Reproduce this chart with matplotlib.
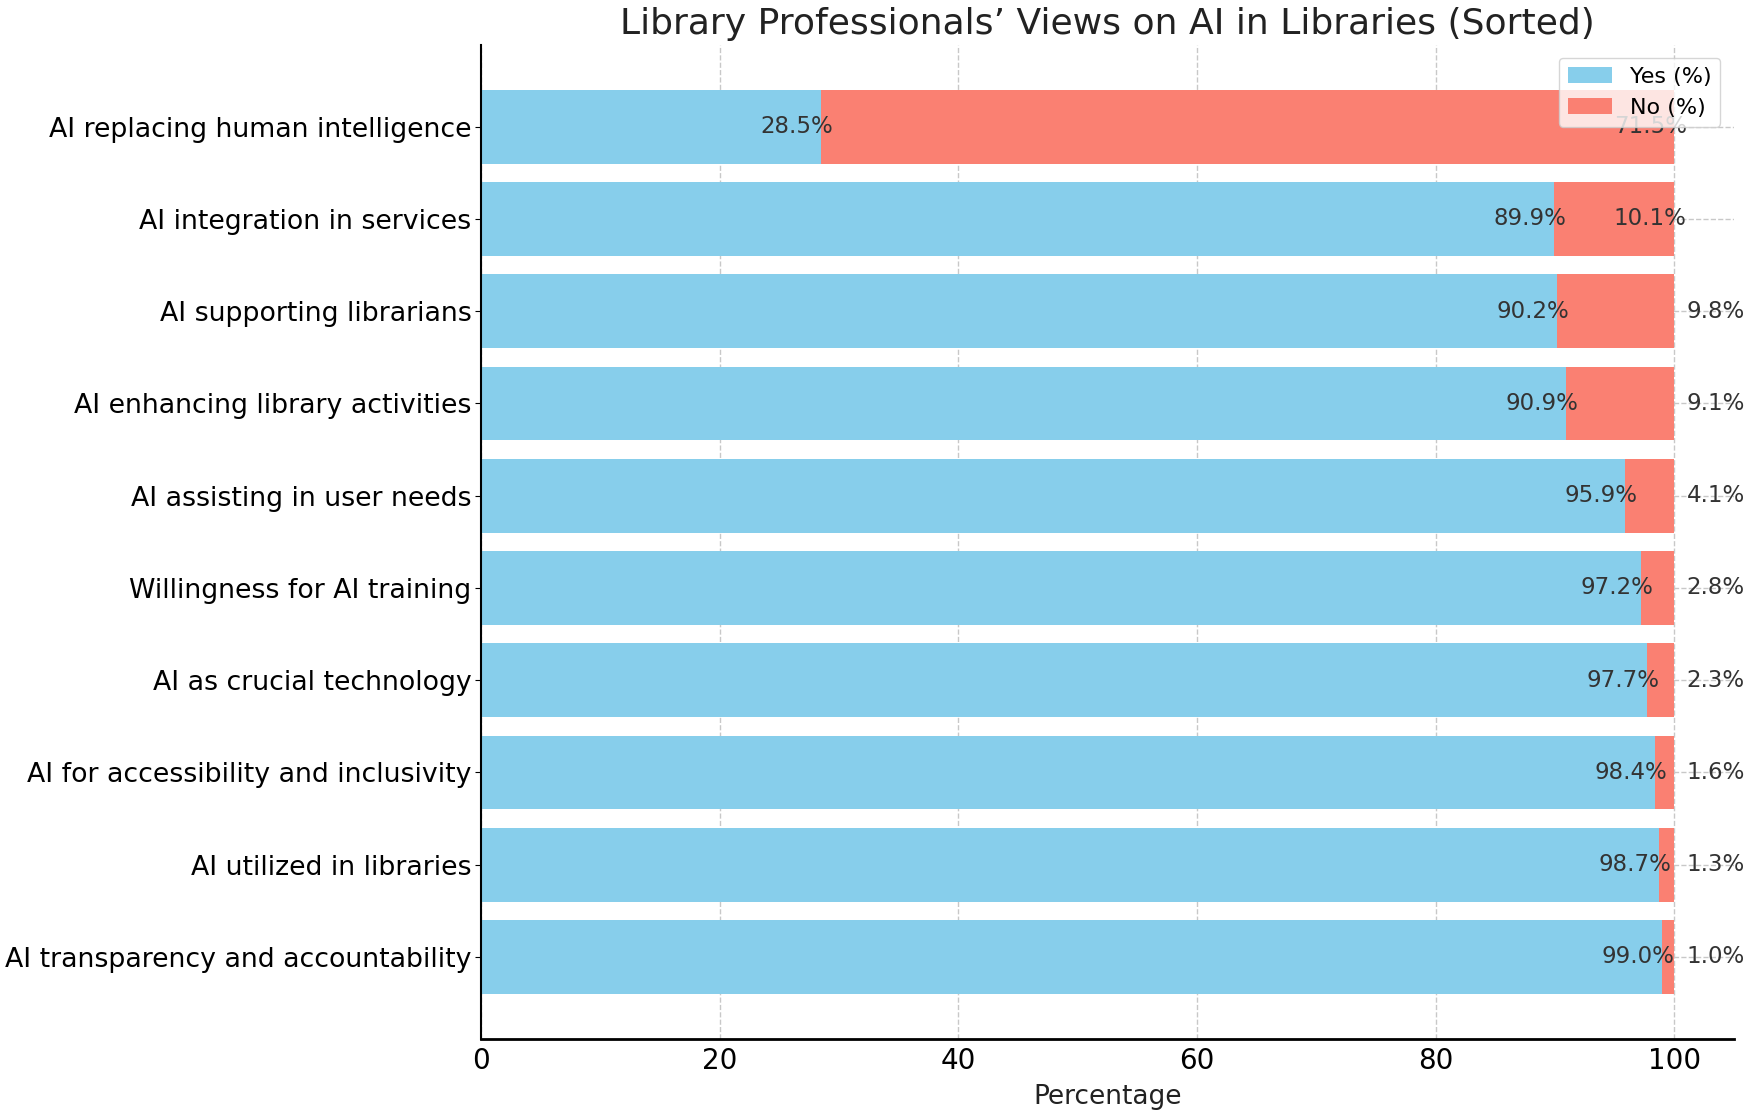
import matplotlib
matplotlib.use("Agg")
from matplotlib import pyplot as plt

categories = ["AI replacing human intelligence", "AI integration in services",
              "AI supporting librarians", "AI enhancing library activities",
              "AI assisting in user needs", "Willingness for AI training",
              "AI as crucial technology", "AI for accessibility and inclusivity",
              "AI utilized in libraries", "AI transparency and accountability"]
yes_pct = [28.5, 89.9, 90.2, 90.9, 95.9, 97.2, 97.7, 98.4, 98.7, 99.0]
no_pct = [71.5, 10.1, 9.8, 9.1, 4.1, 2.8, 2.3, 1.6, 1.3, 1.0]

fig = plt.figure(figsize=(17.46, 11.16), dpi=100)
ax = fig.add_axes([0.2755, 0.069, 0.7175, 0.891])

# reverse so the first category sits on top
cats = categories[::-1]
yes = yes_pct[::-1]
no = no_pct[::-1]

ax.barh(cats, yes, color="skyblue", label="Yes (%)", height=0.8)
ax.barh(cats, no, left=yes, color="salmon", label="No (%)", height=0.8)

for i, (y, n) in enumerate(zip(yes, no)):
    ax.text(y - 2, i, f"{y}%", ha="center", va="center", fontsize=16.5, color="#333333")
    nx = 98 if n > 10 else 103.5
    ax.text(nx, i, f"{n}%", ha="center", va="center", fontsize=16.5, color="#333333")

ax.set_title("Library Professionals\u2019 Views on AI in Libraries (Sorted)", fontsize=26,
             color="#222222", pad=8)
ax.set_xlabel("Percentage", fontsize=19, color="#222222", labelpad=6)
ax.tick_params(axis="y", labelsize=19.3, length=4, pad=3)
ax.tick_params(axis="x", labelsize=20, length=0, pad=6)
ax.grid(True, linestyle="--", color="#c8c8c8", linewidth=1)
ax.set_axisbelow(True)
ax.spines["top"].set_visible(False)
ax.spines["right"].set_visible(False)
ax.spines["left"].set_linewidth(1.5)
ax.spines["bottom"].set_linewidth(2)
ax.legend(loc="upper right", fontsize=16, borderaxespad=0.6)

fig.savefig("out.png", dpi=100)
